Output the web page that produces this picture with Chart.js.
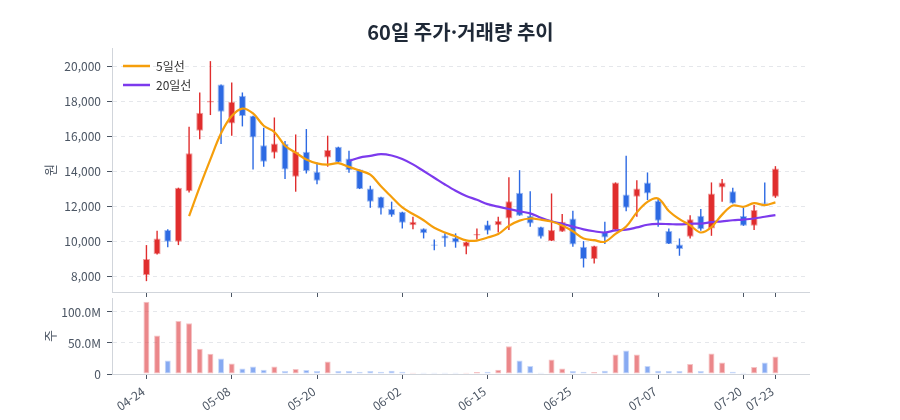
<!DOCTYPE html>
<html lang="ko">
<head>
<meta charset="utf-8">
<title>60일 주가·거래량 추이</title>
<script src="https://cdn.jsdelivr.net/npm/chart.js@4.4.1/dist/chart.umd.min.js"></script>
<style>
  html, body { margin: 0; padding: 0; background: #fff; }
  #wrap { position: relative; width: 900px; height: 420px; }
  #price { position: absolute; left: 0; top: 0; }
  #volume { position: absolute; left: 0; top: 298px; }
</style>
</head>
<body>
<div id="wrap">
  <canvas id="price" width="900" height="298" style="width:900px;height:298px"></canvas>
  <canvas id="volume" width="900" height="122" style="width:900px;height:122px"></canvas>
</div>
<script>
const dates = [
  "04-24", "04-27", "04-28", "04-29", "04-30", "05-04", "05-06", "05-07", "05-08", "05-11",
  "05-12", "05-13", "05-14", "05-15", "05-18", "05-19", "05-20", "05-21", "05-22", "05-26",
  "05-27", "05-28", "05-29", "06-01", "06-02", "06-04", "06-05", "06-08", "06-09", "06-10",
  "06-11", "06-12", "06-15", "06-16", "06-17", "06-18", "06-19", "06-22", "06-23", "06-24",
  "06-25", "06-26", "06-29", "06-30", "07-01", "07-02", "07-03", "07-06", "07-07", "07-08",
  "07-09", "07-10", "07-13", "07-14", "07-15", "07-16", "07-20", "07-21", "07-22", "07-23"
];
const open = [
  8090, 9280, 10670, 10000, 12890, 16340, 17960, 18990, 16760, 18340,
  17200, 15520, 15090, 15580, 13710, 15140, 14000, 14820, 15430, 14760,
  14130, 13050, 12570, 11870, 11710, 10950, 10760, 9850, 10360, 10230,
  9710, 10360, 10990, 10950, 11330, 12800, 11490, 10860, 10040, 10570,
  11330, 9710, 9010, 10570, 10670, 12700, 12570, 13390, 12340, 10610,
  9850, 10290, 11490, 10760, 13100, 12890, 11470, 10910, 12250, 12570
];
const high = [
  9810, 10630, 10720, 13090, 16570, 18530, 20320, 18990, 19100, 18530,
  17200, 16510, 17100, 15750, 16130, 16440, 14530, 16060, 15430, 15200,
  14130, 13200, 12570, 12290, 11710, 11430, 10760, 10130, 10480, 10480,
  10000, 10760, 11200, 11430, 13680, 14090, 12890, 10860, 12760, 11580,
  11770, 10040, 9770, 11140, 13390, 14910, 13520, 13960, 12480, 10760,
  10190, 11520, 11870, 13390, 13580, 13090, 11960, 12100, 13390, 14320
];
const low = [
  7750, 9270, 9680, 9810, 12820, 15850, 17240, 15580, 16060, 16590,
  14130, 14290, 14760, 13580, 12860, 13900, 13280, 14290, 14530, 13940,
  13010, 11940, 11560, 11430, 10760, 10720, 10190, 9520, 9710, 9660,
  9290, 10130, 10420, 10530, 10670, 11490, 10860, 10190, 10040, 10570,
  9710, 8530, 8760, 9870, 10670, 11750, 11430, 12380, 10860, 9870,
  9200, 10190, 10630, 10340, 12290, 12190, 10910, 10670, 12170, 12510
];
const close = [
  9010, 10190, 10000, 13090, 15050, 17370, 18060, 17430, 18000, 17180,
  15960, 14570, 15620, 14130, 15140, 14040, 13490, 15240, 14530, 14100,
  13010, 12290, 11900, 11520, 11090, 11140, 10480, 9770, 10190, 9960,
  10000, 10440, 10630, 11180, 12320, 11490, 11050, 10290, 10670, 11140,
  9850, 9010, 9770, 10250, 13390, 11940, 13050, 12760, 11200, 9870,
  9580, 11280, 10720, 12760, 13390, 12190, 10910, 11810, 12170, 14190
];
// 이동평균선
const ma5 = [
  null, null, null, null, 11470, 13140, 14710, 16200, 17180, 17610,
  17330, 16630, 16270, 15490, 15090, 14700, 14480, 14410, 14490, 14280,
  14070, 13830, 13170, 12560, 11960, 11590, 11230, 10800, 10530, 10310,
  10080, 10070, 10240, 10440, 10910, 11210, 11330, 11260, 11160, 10930,
  10600, 10190, 10090, 10000, 10450, 10870, 11680, 12280, 12470, 11760,
  11290, 10940, 10530, 10840, 11550, 12070, 12000, 12210, 12090, 12250
];
const ma20 = [
  null, null, null, null, null, null, null, null, null, null,
  null, null, null, null, null, null, null, null, null, 14610,
  14810, 14910, 15010, 14930, 14730, 14420, 14040, 13660, 13270, 12910,
  12610, 12400, 12150, 12010, 11870, 11740, 11620, 11370, 11170, 11030,
  10870, 10710, 10600, 10530, 10650, 10690, 10820, 10970, 11020, 11010,
  10990, 11030, 11040, 11120, 11170, 11230, 11270, 11330, 11430, 11520
];
// 거래량 (백만 주)
const volumeM = [
  116.3, 62.0, 21.7, 85.3, 82.0, 40.8, 32.6, 25.0, 16.8, 8.7,
  12.0, 7.0, 12.0, 4.9, 8.2, 6.5, 4.9, 20.0, 4.9, 4.9,
  3.8, 4.9, 3.8, 5.4, 3.8, 2.2, 2.2, 2.2, 2.2, 2.2,
  2.2, 3.3, 3.8, 7.0, 44.6, 21.7, 13.0, 2.2, 23.4, 8.7,
  4.9, 3.8, 3.3, 5.4, 31.5, 38.0, 31.5, 13.0, 5.4, 4.9,
  4.9, 16.3, 4.9, 33.2, 18.5, 3.8, 2.2, 11.4, 18.5, 28.3
];
const dateTickIdx = [0, 8, 16, 24, 32, 40, 48, 56, 59];
const priceTicks = [8000, 10000, 12000, 14000, 16000, 18000, 20000];
const volumeTicks = [0, 50, 100];

const FONT = "'Noto Sans CJK KR', 'Noto Sans', sans-serif";
Chart.defaults.font.family = FONT;
Chart.defaults.color = "#4b5563";
Chart.defaults.animation = false;

const RED = "#e02d2d", BLUE = "#2d6ae3";
const idx = dates.map((d, i) => i);
const isUp = idx.map(i => close[i] >= open[i]);
const candleColor = idx.map(i => isUp[i] ? RED : BLUE);

const X_MIN = -3.23, X_MAX = 62.15;

function dateAxis(showLabels) {
    return {
        type: "linear",
        min: X_MIN,
        max: X_MAX,
        offset: false,
        afterBuildTicks: scale => { scale.ticks = dateTickIdx.map(v => ({ value: v })); },
        afterFit: scale => { scale.height = showLabels ? 46 : 6; },
        grid: { offset: false, drawOnChartArea: false, drawTicks: true, tickLength: 5, tickColor: "#4b5563" },
        border: { color: "#d1d5db" },
        ticks: {
            autoSkip: false, maxRotation: 35, minRotation: 35, padding: 5, labelOffset: -3,
            color: "#4b5563", font: { size: 12 },
            callback: v => showLabels ? dates[v] : ""
        }
    };
}

function valueAxis(ticks, title, fmt) {
    return {
        afterBuildTicks: scale => { scale.ticks = ticks.map(v => ({ value: v })); },
        afterFit: scale => {
            scale.width = 82;
            scale.paddingTop = 0;
            scale.paddingBottom = 0;
        },
        grid: { color: "#e5e7eb", tickLength: 5, tickColor: "#4b5563" },
        border: { color: "#d1d5db", dash: [4, 4] },
        ticks: { padding: 6, color: "#4b5563", font: { size: 12 }, callback: fmt },
        title: { display: true, text: title, color: "#4b5563", font: { size: 13 }, padding: { top: 12, bottom: 0 } }
    };
}

const legendInside = {
    id: "legendInside",
    afterLayout(chart) {
        const area = chart.chartArea;
        chart.legend.left = area.left + 4;
        chart.legend.top = area.top + 5;
    }
};

new Chart(document.getElementById("price"), {
    type: "bar",
    data: {
        datasets: [
            {
                label: "고저",
                data: idx.map(i => ({ x: i, y: [low[i], high[i]] })),
                backgroundColor: candleColor,
                grouped: false, barPercentage: 0.15, categoryPercentage: 1, maxBarThickness: 1.4,
                order: 3
            },
            {
                label: "시종",
                data: idx.map(i => ({ x: i, y: [open[i], close[i]] })),
                backgroundColor: candleColor,
                borderColor: idx.map(i => isUp[i] ? "rgba(224,45,45,0.45)" : "rgba(45,106,227,0.45)"),
                borderWidth: 1, borderSkipped: false,
                grouped: false, barPercentage: 0.66, categoryPercentage: 1,
                order: 2
            },
            {
                type: "line", label: "5일선",
                data: idx.map(i => ({ x: i, y: ma5[i] })),
                borderColor: "#f59e0b", borderWidth: 2.2, tension: 0.35,
                pointRadius: 0, pointStyle: "line", pointBorderWidth: 2.5, pointBorderColor: "#f59e0b",
                order: 0
            },
            {
                type: "line", label: "20일선",
                data: idx.map(i => ({ x: i, y: ma20[i] })),
                borderColor: "#7c3aed", borderWidth: 2.2, tension: 0.35,
                pointRadius: 0, pointStyle: "line", pointBorderWidth: 2.5, pointBorderColor: "#7c3aed",
                order: 1
            }
        ]
    },
    options: {
        responsive: false,
        animation: false,
        layout: { padding: { left: 30, right: 91, top: 10, bottom: 0 } },
        plugins: {
            title: {
                display: true, text: "60일 주가·거래량 추이", fullSize: false,
                color: "#1f2937", font: { size: 20, weight: "bold" }, padding: { top: 10, bottom: 4 }
            },
            legend: {
                position: "chartArea", align: "start",
                labels: {
                    usePointStyle: true, pointStyleWidth: 27, padding: 7,
                    color: "#333", font: { size: 12 },
                    filter: item => item.datasetIndex >= 2,
                    sort: (a, b) => a.datasetIndex - b.datasetIndex
                }
            },
            tooltip: { enabled: false }
        },
        scales: {
            x: dateAxis(false),
            y: Object.assign(valueAxis(priceTicks, "원", v => v.toLocaleString("en-US")), { min: 7130, max: 21070 })
        }
    },
    plugins: [legendInside]
});

new Chart(document.getElementById("volume"), {
    type: "bar",
    data: {
        datasets: [{
            label: "거래량",
            data: idx.map(i => ({ x: i, y: volumeM[i] })),
            backgroundColor: idx.map(i => isUp[i] ? "rgba(226,84,88,0.7)" : "rgba(70,125,235,0.65)"),
            borderColor: idx.map(i => isUp[i] ? "rgba(226,84,88,0.35)" : "rgba(70,125,235,0.3)"),
            borderWidth: 1, borderSkipped: false,
            grouped: false, barPercentage: 0.56, categoryPercentage: 1
        }]
    },
    options: {
        responsive: false,
        animation: false,
        layout: { padding: { left: 30, right: 91, top: 0, bottom: 0 } },
        plugins: { legend: { display: false }, tooltip: { enabled: false } },
        scales: {
            x: dateAxis(true),
            y: Object.assign(valueAxis(volumeTicks, "주", v => v === 0 ? "0" : v.toFixed(1) + "M"), { min: 0, max: 122.5 })
        }
    }
});
</script>
</body>
</html>
